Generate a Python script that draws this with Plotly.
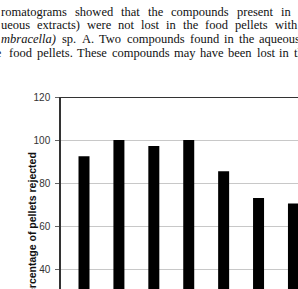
import plotly.graph_objects as go

# ---- chart data ----
categories = ["1", "2", "3", "4", "5", "6", "7"]
pct_rejected = [92.5, 100, 97.2, 100, 85.5, 73, 70.5]
y_ticks = [40, 60, 80, 100, 120]
y_title = "Percentage of pellets rejected"

# ---- body text above the chart (cropped scan of a justified page) ----
line1 = ["romatograms", "showed", "that", "the", "compounds", "present", "in"]
line2 = ["ueous", "extracts)", "were", "not", "lost", "in", "the", "food", "pellets", "with"]
line3 = ["mbracella)", "sp.", "A.", "Two", "compounds", "found", "in", "the", "aqueous"]
line4 = ["food", "pellets.", "These", "compounds", "may", "have", "been", "lost", "in"]
line4_before = "the"
line4_after = "the"

# ---- layout helpers (Times-like advance widths, per em) ----
TW = {" ": .25, "a": .444, "b": .5, "c": .444, "d": .5, "e": .444, "f": .333, "g": .5,
      "h": .5, "i": .278, "j": .278, "k": .5, "l": .278, "m": .778, "n": .5, "o": .5,
      "p": .5, "q": .5, "r": .333, "s": .389, "t": .278, "u": .5, "v": .5, "w": .722,
      "x": .5, "y": .5, "z": .444, "A": .722, "T": .611, ".": .25, ")": .333, "(": .333}
TWI = dict(TW, m=.722, r=.389, a=.5)
FS = 12.5
W, H = 298, 289
PL, PT = 61, 97  # plot area left / top in px
SERIF = "Liberation Serif, Times New Roman, serif"


def wwidth(w, italic=False):
    table = TWI if italic else TW
    return sum(table.get(c, .5) for c in w) * FS + (1.5 if italic else 0)


def justify(words, x0, x1, italic_first=False):
    widths = [wwidth(w, italic_first and i == 0) for i, w in enumerate(words)]
    gap = (x1 - x0 - sum(widths)) / max(len(words) - 1, 1)
    xs, x = [], x0
    for wd in widths:
        xs.append(x)
        x += wd + gap
    return xs, gap


def add_word(ann, text, xpx, ypx, anchor="left"):
    ann.append(dict(
        text=text, x=xpx / W, y=1 - ypx / H, xref="paper", yref="paper",
        xanchor=anchor, yanchor="middle", showarrow=False, borderpad=0,
        font=dict(family=SERIF, size=FS, color="#111"),
    ))


fig = go.Figure()
fig.add_trace(go.Bar(
    x=categories, y=pct_rejected,
    marker=dict(color="black", line=dict(width=0)),
    width=0.315,
))

ann = []
ys = [11.5, 25.2, 39.0, 52.7]
xs, _ = justify(line1, 0, 290)
for w, x in zip(line1, xs):
    add_word(ann, w, x, ys[0])
xs, _ = justify(line2, 0, 296)
for w, x in zip(line2, xs):
    add_word(ann, w, x, ys[1])
xs, _ = justify(line3, 0, 258 + wwidth("aqueous"), italic_first=True)
for i, (w, x) in enumerate(zip(line3, xs)):
    add_word(ann, "<i>" + w + "</i>" if i == 0 else w, x, ys[2])
xs, gap = justify(line4, 8, 288)
for w, x in zip(line4, xs):
    add_word(ann, w, x, ys[3])
add_word(ann, line4_before, 8 - gap, ys[3], anchor="right")
add_word(ann, line4_after, 288 + gap, ys[3])

ann.append(dict(
    text="<b>" + y_title + "</b>", x=32 / W, y=1 - 227 / H, xref="paper", yref="paper",
    xanchor="center", yanchor="middle", textangle=-90, showarrow=False,
    font=dict(family="Liberation Sans, Arial, sans-serif", size=10.5, color="#111"),
))

fig.update_layout(
    width=W, height=H,
    margin=dict(l=0, r=0, t=0, b=0),
    paper_bgcolor="white", plot_bgcolor="white",
    showlegend=False,
    annotations=ann,
    xaxis=dict(
        domain=[PL / W, 1], type="category",
        range=[-0.659, 6.13],
        showticklabels=False, ticks="", showgrid=False, zeroline=False,
        showline=False, automargin=False,
    ),
    yaxis=dict(
        domain=[0, 1 - PT / H],
        range=[30.7, 120],
        tickvals=y_ticks, ticktext=[str(v) for v in y_ticks],
        ticks="outside", ticklen=4, tickcolor="#666", tickwidth=1,
        ticklabelstandoff=3,
        tickfont=dict(family="Liberation Sans Narrow, Arial Narrow, Liberation Sans, Arial", size=10, color="#333"),
        showgrid=True, gridcolor="#c8c8c8", gridwidth=1,
        showline=True, linecolor="#333", linewidth=1.5,
        zeroline=False, automargin=False,
    ),
    shapes=[dict(
        type="line", xref="paper", yref="y",
        x0=PL / W, x1=1, y0=120, y1=120,
        line=dict(color="#333", width=2),
    )],
)

fig.write_html("out.html")
